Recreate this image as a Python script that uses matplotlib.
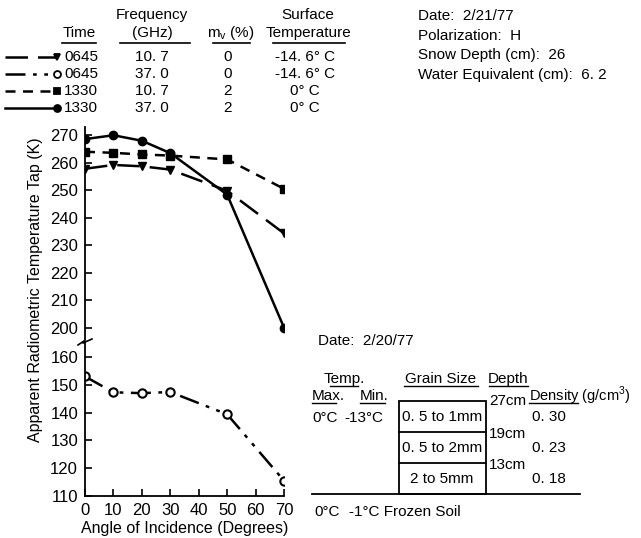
import matplotlib
matplotlib.use("Agg")
import matplotlib.pyplot as plt
from matplotlib.lines import Line2D
from matplotlib.patches import Rectangle

plt.rcParams['font.family'] = ['Liberation Sans', 'DejaVu Sans']

# data
angles = [0, 10, 20, 30, 50, 70]
tb_0645_107 = [257.8, 259.2, 258.7, 257.5, 249.8, 234.3]
tb_0645_370 = [153.0, 147.3, 147.0, 147.4, 139.4, 115.5]
tb_1330_107 = [264.0, 263.6, 263.0, 262.6, 261.2, 250.5]
tb_1330_370 = [268.6, 270.0, 268.0, 263.5, 248.4, 200.0]

times = ['0645', '0645', '1330', '1330']
freqs = ['10. 7', '37. 0', '10. 7', '37. 0']
mv = ['0', '0', '2', '2']
surf_temp = ['-14. 6° C', '-14. 6° C', '0° C', '0° C']

W, H = 641, 538


def px(x, y):
    return x / W, 1 - y / H


fig = plt.figure(figsize=(W / 100, H / 100), dpi=100)

# broken y axis: two panels sharing x
ax_top = fig.add_axes([85 / W, 1 - 340 / H, 199 / W, 213 / H])
ax_bot = fig.add_axes([85 / W, 1 - 496 / H, 199 / W, 154 / H])

styles = [
    dict(ls=(0, (9, 4)), marker='v', mfc='k', ms=6),
    dict(ls=(0, (8, 3, 1.5, 3, 1.5, 3)), marker='o', mfc='white', ms=6),
    dict(ls=(0, (4, 3)), marker='s', mfc='k', ms=5.5),
    dict(ls='-', marker='o', mfc='k', ms=6),
]

ax_top.plot(angles, tb_0645_107, color='k', lw=1.8, mec='k', **styles[0])
ax_top.plot(angles, tb_1330_107, color='k', lw=1.8, mec='k', **styles[2])
ax_top.plot(angles, tb_1330_370, color='k', lw=1.8, mec='k', **styles[3])
ax_bot.plot(angles, tb_0645_370, color='k', lw=1.8, mec='k', mew=1.5, **styles[1])

for ax in (ax_top, ax_bot):
    ax.set_xlim(0, 70)
    ax.spines['top'].set_visible(False)
    ax.spines['right'].set_visible(False)
    ax.spines['left'].set_linewidth(1.3)
    ax.spines['bottom'].set_linewidth(1.3)
    ax.tick_params(direction='in', length=5, width=1.2, labelsize=12, pad=5)
    ax.set_facecolor('none')

ax_top.set_ylim(195.5, 273)
ax_top.set_yticks(range(200, 271, 10))
ax_top.spines['bottom'].set_visible(False)
ax_top.set_xticks([])

ax_bot.set_ylim(110, 165.4)
ax_bot.set_yticks(range(110, 161, 10))
ax_bot.set_xticks(range(0, 71, 10))
ax_bot.set_xlabel('Angle of Incidence (Degrees)', fontsize=11.5, labelpad=2)

fig.text(*px(36, 290), 'Apparent Radiometric Temperature Tap (K)', rotation=90,
         ha='center', va='center', fontsize=11.5)

# break mark on the axis
bx = [78, 84, 83, 92]
by = [345, 341, 343, 339]
fig.add_artist(Line2D([b / W for b in bx], [1 - b / H for b in by], color='k', lw=1.2))

# legend table
fs = 11
fig.text(*px(152, 15), 'Frequency', ha='center', va='center', fontsize=fs)
fig.text(*px(308, 15), 'Surface', ha='center', va='center', fontsize=fs)
fig.text(*px(79, 33), 'Time', ha='center', va='center', fontsize=fs)
fig.text(*px(152, 33), '(GHz)', ha='center', va='center', fontsize=fs)
fig.text(*px(231, 33), r'm$_\mathregular{v}$ (%)', ha='center', va='center', fontsize=fs)
fig.text(*px(308, 33), 'Temperature', ha='center', va='center', fontsize=fs)
for x0, x1 in [(62, 96), (120, 190), (213, 250), (273, 345)]:
    fig.add_artist(Line2D([x0 / W, x1 / W], [1 - 43 / H] * 2, color='k', lw=1.2))

rows = [57, 74, 91, 108]
for i, y in enumerate(rows):
    st = dict(styles[i])
    mk = st.pop('marker')
    mfc = st.pop('mfc')
    ms = st.pop('ms')
    fig.add_artist(Line2D([5 / W, 56 / W], [1 - y / H] * 2, color='k', lw=1.8, **st))
    fig.add_artist(Line2D([57 / W], [1 - y / H], marker=mk, mfc=mfc, mec='k',
                          ms=ms - 1, mew=1.3, ls='none'))
    fig.text(*px(64, y), times[i], ha='left', va='center', fontsize=fs)
    fig.text(*px(152, y), freqs[i], ha='center', va='center', fontsize=fs)
    fig.text(*px(228, y), mv[i], ha='center', va='center', fontsize=fs)
    fig.text(*px(305, y), surf_temp[i], ha='center', va='center', fontsize=fs)

info = ['Date:  2/21/77', 'Polarization:  H', 'Snow Depth (cm):  26',
        'Water Equivalent (cm):  6. 2']
for i, t in enumerate(info):
    fig.text(*px(418, 16 + 19.5 * i), t, ha='left', va='center', fontsize=fs)

# snow pit schematic
fig.text(*px(318, 341), 'Date:  2/20/77', ha='left', va='center', fontsize=fs)
fig.text(*px(344, 379), 'Temp.', ha='center', va='center', fontsize=fs)
fig.text(*px(441, 379), 'Grain Size', ha='center', va='center', fontsize=fs)
fig.text(*px(508, 379), 'Depth', ha='center', va='center', fontsize=fs)
fig.text(*px(312, 396), 'Max.', ha='left', va='center', fontsize=fs)
fig.text(*px(360, 396), 'Min.', ha='left', va='center', fontsize=fs)
fig.text(*px(529, 396), r'Density (g/cm$^\mathregular{3}$)', ha='left', va='center', fontsize=10.5)
for x0, x1, y in [(330, 358, 386), (404, 478, 386), (489, 528, 386),
                  (312, 336, 403), (360, 385, 403), (529, 578, 403)]:
    fig.add_artist(Line2D([x0 / W, x1 / W], [1 - y / H] * 2, color='k', lw=1.0))

fig.add_artist(Rectangle(px(399, 494), 87 / W, 93 / H, fill=False, ec='k', lw=1.3,
                         transform=fig.transFigure))
for y in (432, 463):
    fig.add_artist(Line2D([399 / W, 486 / W], [1 - y / H] * 2, color='k', lw=1.3))
fig.add_artist(Line2D([312 / W, 580 / W], [1 - 494 / H] * 2, color='k', lw=1.3))

fig.text(*px(312, 418), '0°C', ha='left', va='center', fontsize=fs)
fig.text(*px(344, 418), '-13°C', ha='left', va='center', fontsize=fs)
grains = ['0. 5 to 1mm', '0. 5 to 2mm', '2 to 5mm']
grain_y = [417, 448, 479]
for g, y in zip(grains, grain_y):
    fig.text(*px(442, y), g, ha='center', va='center', fontsize=fs)
depths = ['27cm', '19cm', '13cm']
depth_y = [401, 434, 465]
for d, y in zip(depths, depth_y):
    fig.text(*px(489, y), d, ha='left', va='center', fontsize=fs)
dens = ['0. 30', '0. 23', '0. 18']
for d, y in zip(dens, grain_y):
    fig.text(*px(532, y), d, ha='left', va='center', fontsize=fs)
fig.text(*px(314, 512), '0°C', ha='left', va='center', fontsize=fs)
fig.text(*px(349, 512), '-1°C Frozen Soil', ha='left', va='center', fontsize=fs)

fig.savefig('out.png', dpi=100)
